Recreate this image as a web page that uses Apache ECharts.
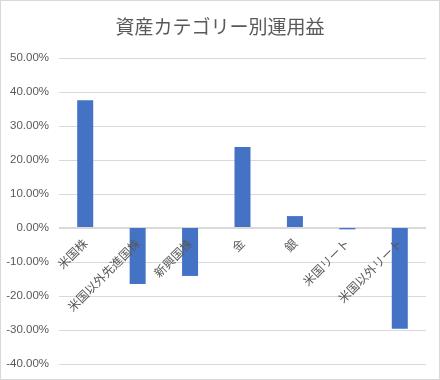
<!DOCTYPE html>
<html><head><meta charset="utf-8">
<script src="https://cdn.jsdelivr.net/npm/echarts@6/dist/echarts.min.js"></script>
<style>
html,body{margin:0;padding:0;background:#fff;}
#c{width:440px;height:380px;box-sizing:border-box;border:1px solid #d9d9d9;}
</style></head><body>
<div id="c"></div>
<script>
const categories = ['米国株','米国以外先進国株','新興国株','金','銀','米国リート','米国以外リート'];
const values = [0.376, -0.165, -0.141, 0.238, 0.035, -0.004, -0.296];
const title = '資産カテゴリー別運用益';
const yMin = -0.4, yMax = 0.5, yStep = 0.1;
const FONT = '"Noto Sans CJK JP", "Noto Sans", sans-serif';
const G = {left: 58, right: 13, top: 57, bottom: 15};
const gridH = 380 - G.top - G.bottom;
const zeroOffset = -gridH * (0 - yMin) / (yMax - yMin);
const chart = echarts.init(document.getElementById('c'));
chart.setOption({
  animation: false,
  title: {text: title, left: 'center', top: 11,
    textStyle: {color: '#595959', fontSize: 19, fontWeight: 'normal', fontFamily: FONT}},
  grid: Object.assign({containLabel: false, outerBoundsMode: 'none'}, G),
  xAxis: {type: 'category', data: categories, offset: zeroOffset, z: 5,
    axisLine: {onZero: false, lineStyle: {color: '#d9d9d9'}},
    axisTick: {show: false},
    axisLabel: {rotate: 45, margin: 14, interval: 0, color: '#595959', fontSize: 12, fontFamily: FONT}},
  yAxis: {type: 'value', min: yMin, max: yMax, interval: yStep,
    axisLine: {show: false}, axisTick: {show: false},
    splitLine: {lineStyle: {color: '#d9d9d9'}},
    axisLabel: {margin: 10, color: '#595959', fontSize: 11.5, fontFamily: '"Liberation Sans", sans-serif',
      formatter: v => (v * 100).toFixed(2) + '%'}},
  series: [{type: 'bar', data: values, barWidth: 16, itemStyle: {color: '#4472c4'}}]
});
</script></body></html>
